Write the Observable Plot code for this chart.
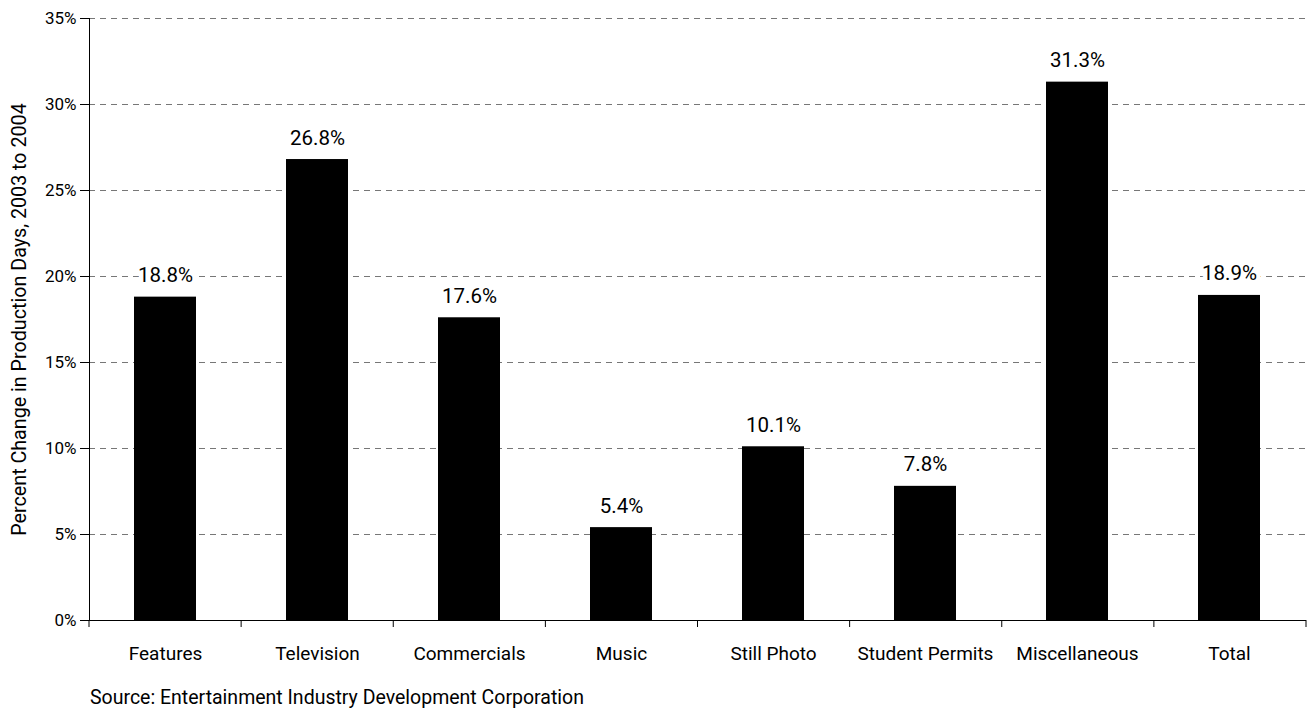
<!DOCTYPE html>
<html>
<head>
<meta charset="utf-8">
<script src="https://cdn.jsdelivr.net/npm/d3@7"></script>
<script src="https://cdn.jsdelivr.net/npm/@observablehq/plot@0.6"></script>
<style>
  body { margin: 0; background: #fff; font-family: Roboto, "Liberation Sans", sans-serif; }
  #caption { font-size: 19.5px; padding-left: 90px; line-height: 24px; color: #000; }
</style>
</head>
<body>
<div id="chart"></div>
<div id="caption">Source: Entertainment Industry Development Corporation</div>
<script>
// Percent change in production days, 2003 to 2004, by permit category
const categories = ["Features", "Television", "Commercials", "Music", "Still Photo", "Student Permits", "Miscellaneous", "Total"];
const pctChange = [18.8, 26.8, 17.6, 5.4, 10.1, 7.8, 31.3, 18.9];
const yTicks = [0, 5, 10, 15, 20, 25, 30, 35];
const yTitle = "Percent Change in Production Days, 2003 to 2004";

const rows = categories.map((category, i) => ({category, value: pctChange[i]}));

const FONT = 'Roboto, "Liberation Sans", sans-serif';

// Tick marks on the category axis sit between the bars (slot boundaries)
function slotTicks(index, scales, values, dimensions) {
  const {width, height, marginLeft, marginRight, marginBottom} = dimensions;
  const n = categories.length;
  const step = (width - marginLeft - marginRight) / n;
  const y0 = height - marginBottom;
  const g = d3.create("svg:g");
  g.selectAll("line")
    .data(d3.range(n + 1))
    .join("line")
    .attr("x1", k => marginLeft + k * step)
    .attr("x2", k => marginLeft + k * step)
    .attr("y1", y0)
    .attr("y2", y0 + 7)
    .attr("stroke", "#000");
  return g.node();
}

const chart = Plot.plot({
  width: 1310,
  height: 686,
  marginLeft: 89,
  marginRight: 4,
  marginTop: 18,
  marginBottom: 66,
  style: {fontFamily: FONT, background: "#fff", color: "#000"},
  x: {domain: categories, paddingInner: 0.59, paddingOuter: 0.295},
  y: {domain: [0, 35]},
  marks: [
    Plot.gridY(yTicks.filter(d => d > 0), {stroke: "#777", strokeOpacity: 1, strokeDasharray: "6,5", strokeWidth: 1.2}),
    Plot.barY(rows, {x: "category", y: "value", fill: "#000"}),
    Plot.text(rows, {
      x: "category", y: "value",
      text: d => d.value.toFixed(1) + "%",
      dy: -15, lineAnchor: "bottom",
      fill: "#000", stroke: "#fff", strokeWidth: 9,
      fontSize: 20.5
    }),
    Plot.frame({anchor: "left", stroke: "#000"}),
    Plot.ruleY([0], {stroke: "#000"}),
    Plot.axisY({
      ticks: yTicks, tickFormat: d => d + "%",
      tickSize: 9, tickPadding: 4, fontSize: 17,
      label: yTitle, labelAnchor: "center", labelArrow: "none", labelOffset: 78
    }),
    Plot.axisX({tickSize: 0, tickPadding: 26, fontSize: 19, label: null}),
    slotTicks
  ]
});

// the rotated axis title uses the larger type of the chart
chart.querySelectorAll("g[aria-label='y-axis label'] text").forEach(t => t.setAttribute("font-size", 19.7));

document.getElementById("chart").append(chart);
</script>
</body>
</html>
